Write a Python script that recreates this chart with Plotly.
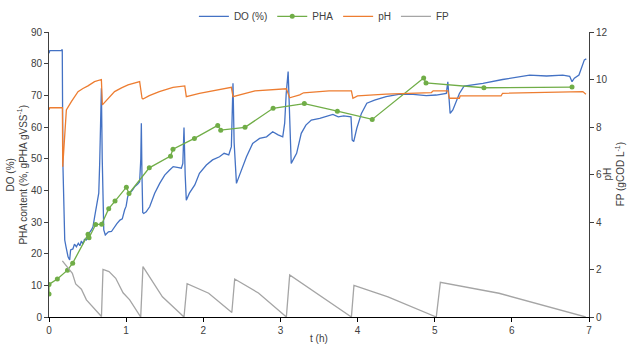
import plotly.graph_objects as go

# ---- data ----
do_t = [0.0, 0.01, 0.16, 0.172, 0.18, 0.204, 0.22, 0.247, 0.268, 0.28, 0.31, 0.33, 0.355, 0.38, 0.40, 0.42, 0.44, 0.46,
        0.485, 0.52, 0.55, 0.57, 0.592, 0.627, 0.645, 0.657, 0.668, 0.679, 0.69, 0.70, 0.71, 0.73, 0.77, 0.81, 0.85,
        0.88, 0.92, 0.95, 0.98, 1.00, 1.02, 1.046, 1.08, 1.11, 1.15, 1.175, 1.19, 1.197, 1.205, 1.215, 1.228, 1.26,
        1.305, 1.37, 1.435, 1.50, 1.564, 1.61, 1.68, 1.716, 1.735, 1.75, 1.765, 1.78, 1.82, 1.89, 1.95, 2.04, 2.12,
        2.21, 2.27, 2.33, 2.364, 2.385, 2.40, 2.43, 2.47, 2.56, 2.64, 2.73, 2.82, 2.90, 2.97, 3.03, 3.055, 3.075,
        3.10, 3.12, 3.14, 3.21, 3.27, 3.33, 3.40, 3.51, 3.60, 3.68, 3.75, 3.82, 3.915, 3.93, 3.95, 3.99, 4.05, 4.12,
        4.22, 4.37, 4.55, 4.72, 4.89, 5.02, 5.15, 5.17, 5.20, 5.235, 5.32, 5.38, 5.625, 5.88, 6.23, 6.45, 6.66, 6.75,
        6.78, 6.81, 6.87, 6.91, 6.94, 6.965]
do_v = [83.3, 84.1, 84.1, 84.5, 48.5, 24.3, 22.2, 19.0, 18.0, 21.2, 21.5, 23.0, 22.2, 23.3, 22.5, 24.0, 23.0, 24.5,
        24.3, 26.5, 27.5, 28.5, 31.7, 35.9, 39.1, 48.5, 64.3, 72.2, 50.0, 33.8, 27.5, 25.9, 26.9, 27.0, 28.5,
        29.5, 30.6, 31.0, 33.8, 35.0, 38.0, 39.1, 40.0, 41.1, 42.0, 42.7, 50.0, 61.2, 45.0, 33.0, 32.7, 33.2,
        34.8, 39.1, 42.2, 44.8, 46.4, 47.5, 47.2, 47.0, 48.5, 59.8, 45.0, 36.9, 39.1, 41.7, 45.4, 48.0, 49.6,
        50.6, 51.7, 51.2, 53.8, 73.8, 55.0, 42.2, 44.8, 50.6, 54.8, 56.4, 56.9, 58.5, 57.5, 56.9, 61.2, 70.6,
        77.5, 60.0, 48.5, 51.7, 58.0, 60.6, 62.2, 62.7, 63.5, 64.0, 63.2, 63.5, 63.2, 55.9, 55.4, 59.6, 64.3, 67.5,
        68.5, 69.6, 70.4, 70.3, 69.9, 70.1, 70.6, 74.3, 64.3, 65.4, 70.6, 72.9, 73.8, 75.0, 76.4, 76.1, 76.4, 76.0,
        74.3, 75.4, 76.4, 79.0, 81.2, 81.5]

pha_t = [0.0, 0.0, 0.108, 0.24, 0.307, 0.506, 0.519, 0.605, 0.683, 0.774, 0.856, 1.003, 1.037, 1.30, 1.575, 1.607,
         1.885, 2.187, 2.226, 2.541, 2.905, 3.31, 3.738, 4.19, 4.857, 4.887, 5.638, 6.78]
pha_v = [7.3, 10.3, 12.0, 14.8, 17.0, 26.1, 25.0, 29.2, 29.3, 34.2, 36.6, 41.0, 39.0, 47.1, 50.8, 53.0,
         56.4, 60.5, 59.0, 59.9, 65.9, 67.4, 65.0, 62.4, 75.5, 73.9, 72.4, 72.6]

ph_t = [0.0, 0.01, 0.16, 0.174, 0.178, 0.194, 0.225, 0.29, 0.376, 0.44, 0.505, 0.59, 0.679, 0.692, 0.744, 0.85, 0.94,
        1.024, 1.175, 1.206, 1.218, 1.30, 1.43, 1.607, 1.76, 1.78, 1.95, 2.13, 2.364, 2.385, 2.56, 2.67, 3.077, 3.12,
        3.25, 3.30, 3.63, 3.92, 3.94, 4.00, 4.37, 4.957, 4.98, 5.17, 5.19, 5.32, 5.33, 5.86, 5.88, 6.92, 6.96]
ph_v = [8.72, 8.81, 8.81, 8.81, 6.33, 7.24, 8.72, 9.07, 9.49, 9.62, 9.73, 9.91, 10.0, 8.93, 9.11, 9.49, 9.65,
        9.77, 9.91, 9.21, 9.18, 9.32, 9.49, 9.67, 9.73, 9.28, 9.42, 9.53, 9.67, 9.28, 9.42, 9.52, 9.61, 9.23,
        9.35, 9.44, 9.52, 9.52, 9.21, 9.31, 9.38, 9.45, 9.52, 9.52, 9.21, 9.21, 9.31, 9.31, 9.42, 9.49, 9.38]

fp_t = [0.173, 0.303, 0.346, 0.42, 0.485, 0.68, 0.70, 0.778, 0.865, 0.96, 1.046, 1.189, 1.218, 1.305, 1.47, 1.75,
        1.79, 2.07, 2.37, 2.407, 2.715, 3.077, 3.12, 3.92, 3.953, 4.394, 5.02, 5.073, 5.833, 6.957]
fp_v = [2.36, 1.84, 1.39, 1.17, 0.72, 0.02, 2.0, 1.91, 1.63, 1.02, 0.72, 0.0, 2.12, 1.70, 0.85, 0.0,
        1.40, 1.0, 0.19, 1.60, 1.01, 0.0, 1.77, 0.0, 1.33, 0.85, 0.0, 1.46, 1.0, 0.0]

x_ticks = [0, 1, 2, 3, 4, 5, 6, 7]
y1_ticks = [0, 10, 20, 30, 40, 50, 60, 70, 80, 90]
y2_ticks = [0, 2, 4, 6, 8, 10, 12]

x_title = "t (h)"
y1_title = "DO (%)<br>PHA content (%, gPHA gVSS<sup>-1</sup>)"
y2_title = "pH<br>FP (gCOD L<sup>-1</sup>)"

FONT = "Liberation Sans, Arial, sans-serif"
TXT = "#404040"

fig = go.Figure()
fig.add_trace(go.Scatter(x=do_t, y=do_v, name="DO (%)", mode="lines",
                         line=dict(color="#4472C4", width=1.3)))
fig.add_trace(go.Scatter(x=pha_t, y=pha_v, name="PHA", mode="lines+markers",
                         line=dict(color="#70AD47", width=1.3),
                         marker=dict(color="#70AD47", size=5)))
fig.add_trace(go.Scatter(x=ph_t, y=ph_v, name="pH", mode="lines", yaxis="y2",
                         line=dict(color="#ED7D31", width=1.3)))
fig.add_trace(go.Scatter(x=fp_t, y=fp_v, name="FP", mode="lines", yaxis="y2",
                         line=dict(color="#A5A5A5", width=1.3)))

axis_common = dict(showgrid=False, zeroline=False, showline=True, ticks="outside", ticklen=4,
                   automargin=False, tickfont=dict(size=10, color=TXT, family=FONT))

fig.update_layout(
    width=627, height=344,
    margin=dict(l=49, r=38, t=32, b=27, autoexpand=False),
    paper_bgcolor="white", plot_bgcolor="white",
    font=dict(family=FONT, color=TXT, size=10),
    showlegend=True,
    legend=dict(orientation="h", x=0.51, xanchor="center", y=1.055, yanchor="middle",
                font=dict(size=10, color=TXT), itemwidth=30, bgcolor="rgba(0,0,0,0)"),
    xaxis=dict(range=[0, 7], tickvals=x_ticks, linecolor="#000000", tickcolor="#000000", **axis_common),
    yaxis=dict(range=[0, 90], tickvals=y1_ticks, linecolor="#404040", tickcolor="#404040", **axis_common),
    yaxis2=dict(range=[0, 12], tickvals=y2_ticks, overlaying="y", side="right",
                linecolor="#404040", tickcolor="#404040", **axis_common),
    annotations=[
        dict(text=x_title, xref="paper", yref="paper", x=0.5, y=-0.074, xanchor="center", yanchor="middle",
             showarrow=False, font=dict(size=10, color=TXT)),
        dict(text=y1_title, xref="paper", yref="paper", x=-0.061, y=0.5, xanchor="center", yanchor="middle",
             textangle=-90, showarrow=False, font=dict(size=10, color=TXT)),
        dict(text=y2_title, xref="paper", yref="paper", x=1.046, y=0.5, xanchor="center", yanchor="middle",
             textangle=-90, showarrow=False, font=dict(size=10, color=TXT)),
    ],
)

fig.write_html("out.html", config={"displayModeBar": False},
               post_script="document.body.style.margin='0px';")
